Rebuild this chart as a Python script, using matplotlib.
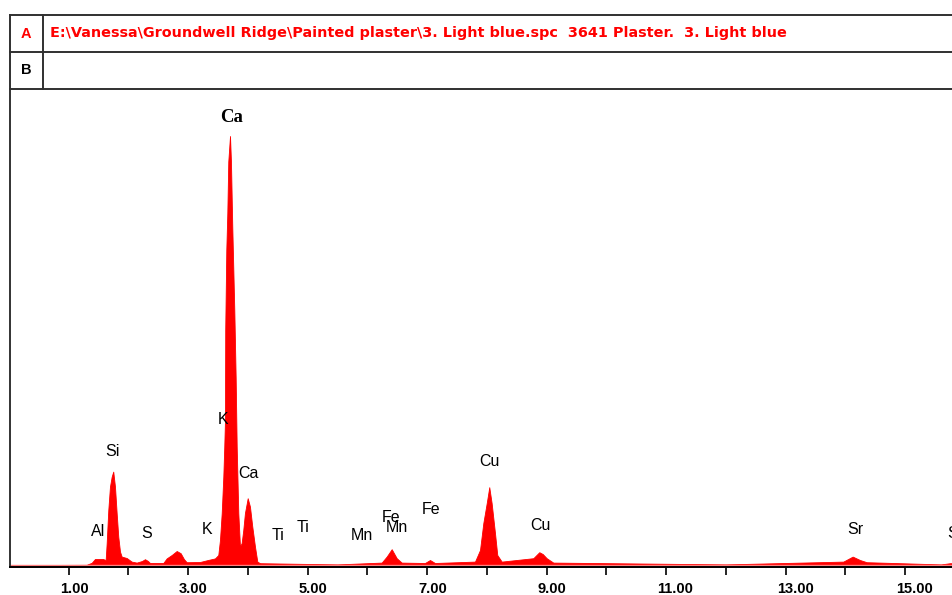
import numpy as np
import matplotlib
matplotlib.use("Agg")
import matplotlib.pyplot as plt
from matplotlib.lines import Line2D
import matplotlib.transforms as mtransforms

# spectrum: energy (keV) and counts
energy = [0.00, 0.55, 0.56, 1.30, 1.385, 1.44, 1.574, 1.619, 1.636, 1.663, 1.691,
          1.720, 1.746, 1.775, 1.803, 1.830, 1.859, 1.887, 1.971, 2.054, 2.138,
          2.227, 2.277, 2.327, 2.361, 2.583, 2.640, 2.724, 2.808, 2.874, 2.930,
          2.975, 3.197, 3.331, 3.449, 3.504, 3.532, 3.561, 3.588, 3.604, 3.616,
          3.620, 3.638, 3.655, 3.671, 3.700, 3.716, 3.738, 3.772, 3.795, 3.812,
          3.839, 3.867, 3.895, 3.922, 3.950, 3.996, 4.034, 4.073, 4.118, 4.157,
          4.202, 5.50, 6.238, 6.322, 6.406, 6.490, 6.573, 6.963, 7.047, 7.130,
          7.800, 7.884, 7.939, 7.996, 8.039, 8.079, 8.135, 8.173, 8.247, 8.776,
          8.876, 8.933, 9.000, 9.111, 12.0, 13.964, 14.121, 14.243, 14.356,
          15.60, 15.75, 15.90]
counts = [0, 0, 5, 6, 16, 35, 35, 30, 115, 280, 397,
          447, 472, 397, 265, 147, 72, 47, 40, 22, 17,
          25, 34, 25, 15, 15, 38, 55, 75, 64, 34,
          19, 20, 30, 38, 55, 130, 264, 447, 597, 730,
          1180, 1580, 1764, 2022, 2150, 2022, 1697, 1280, 939, 597,
          264, 97, 115, 180, 265, 339, 297, 197, 97, 22,
          14, 8, 17, 47, 84, 39, 17, 15, 30, 15,
          22, 80, 214, 314, 394, 314, 164, 55, 22, 39,
          69, 60, 39, 17, 8, 22, 47, 30, 19,
          8, 14, 14]

# peak labels
label_text = ["Al", "Si", "S", "K", "K", "Ca", "Ti", "Ti", "Mn", "Fe", "Mn",
              "Fe", "Cu", "Cu", "Sr", "Sr"]
label_e = [1.49, 1.74, 2.31, 3.31, 3.59, 4.01, 4.51, 4.93, 5.90, 6.40, 6.49,
           7.06, 8.05, 8.90, 14.16, 15.84]
label_y = [175, 575, 165, 180, 730, 460, 155, 195, 155, 245, 195,
           285, 525, 200, 180, 165]
top_label = "Ca"
top_e, top_y = 3.72, 2245

ticks = list(range(1, 16))
tick_labels = ["%d.00" % t if t % 2 == 1 else "" for t in ticks]

header_a = "E:\\Vanessa\\Groundwell Ridge\\Painted plaster\\3. Light blue.spc  3641 Plaster.  3. Light blue"

W, H = 953, 595
fig = plt.figure(figsize=(W / 100, H / 100), dpi=100)
fig.patch.set_facecolor("white")

def fx(px):
    return px / W

def fy(py):
    return 1 - py / H

ax = fig.add_axes([fx(10), fy(567), 1 - fx(10), fy(89) - fy(567)])
ax.fill_between(energy, counts, -5, color="#ff0000", lw=0.6, edgecolor="#ff0000")
ax.axhline(6, color="#ff8080", lw=1)
ax.set_xlim(0.018, 15.80)
ax.set_ylim(-5, 2385)

for s in ["top", "right"]:
    ax.spines[s].set_visible(False)
ax.spines["bottom"].set_linewidth(1.4)
ax.spines["left"].set_linewidth(1.4)
ax.spines["left"].set_color("#333333")
ax.set_yticks([])
ax.set_xticks(ticks)
ax.set_xticklabels(tick_labels, fontfamily="Liberation Sans", fontweight="bold",
                   fontsize=10.5, ha="left")
ax.tick_params(axis="x", direction="out", length=6, width=1.2, pad=5)
off = mtransforms.ScaledTranslation(-9 / 100, 0, fig.dpi_scale_trans)
for lab in ax.get_xticklabels():
    lab.set_transform(lab.get_transform() + off)

for t, e, y in zip(label_text, label_e, label_y):
    ax.text(e, y, t, ha="center", va="center", fontsize=11.5,
            fontfamily="Liberation Sans", color="black", clip_on=False)
ax.text(top_e, top_y, top_label, ha="center", va="center", fontsize=13.5,
        fontfamily="Liberation Serif", fontweight="bold", color="black")

# header table
lc = "#303030"
lw = 1.4
for py in [15, 52, 89]:
    fig.add_artist(Line2D([fx(10), 1.0], [fy(py), fy(py)], color=lc, lw=lw))
fig.add_artist(Line2D([fx(10), fx(10)], [fy(15), fy(89)], color=lc, lw=lw))
fig.add_artist(Line2D([fx(43), fx(43)], [fy(15), fy(89)], color=lc, lw=lw))
fig.text(fx(26), fy(33.5), "A", color="#ff0000", fontsize=10.5, fontweight="bold",
         fontfamily="Liberation Sans", ha="center", va="center")
fig.text(fx(26), fy(70.5), "B", color="black", fontsize=10.5, fontweight="bold",
         fontfamily="Liberation Sans", ha="center", va="center")
htxt = fig.text(fx(50), fy(33.5), header_a, color="#ff0000", fontsize=10.5,
                fontweight="bold", fontfamily="DejaVu Sans", ha="left", va="center")

# stretch header text to the width seen in the reference (~743 px)
fig.canvas.draw()
wpx = htxt.get_window_extent().width
htxt.set_fontsize(10.5 * 743 / wpx)

fig.savefig("out.png", dpi=100, facecolor="white")
